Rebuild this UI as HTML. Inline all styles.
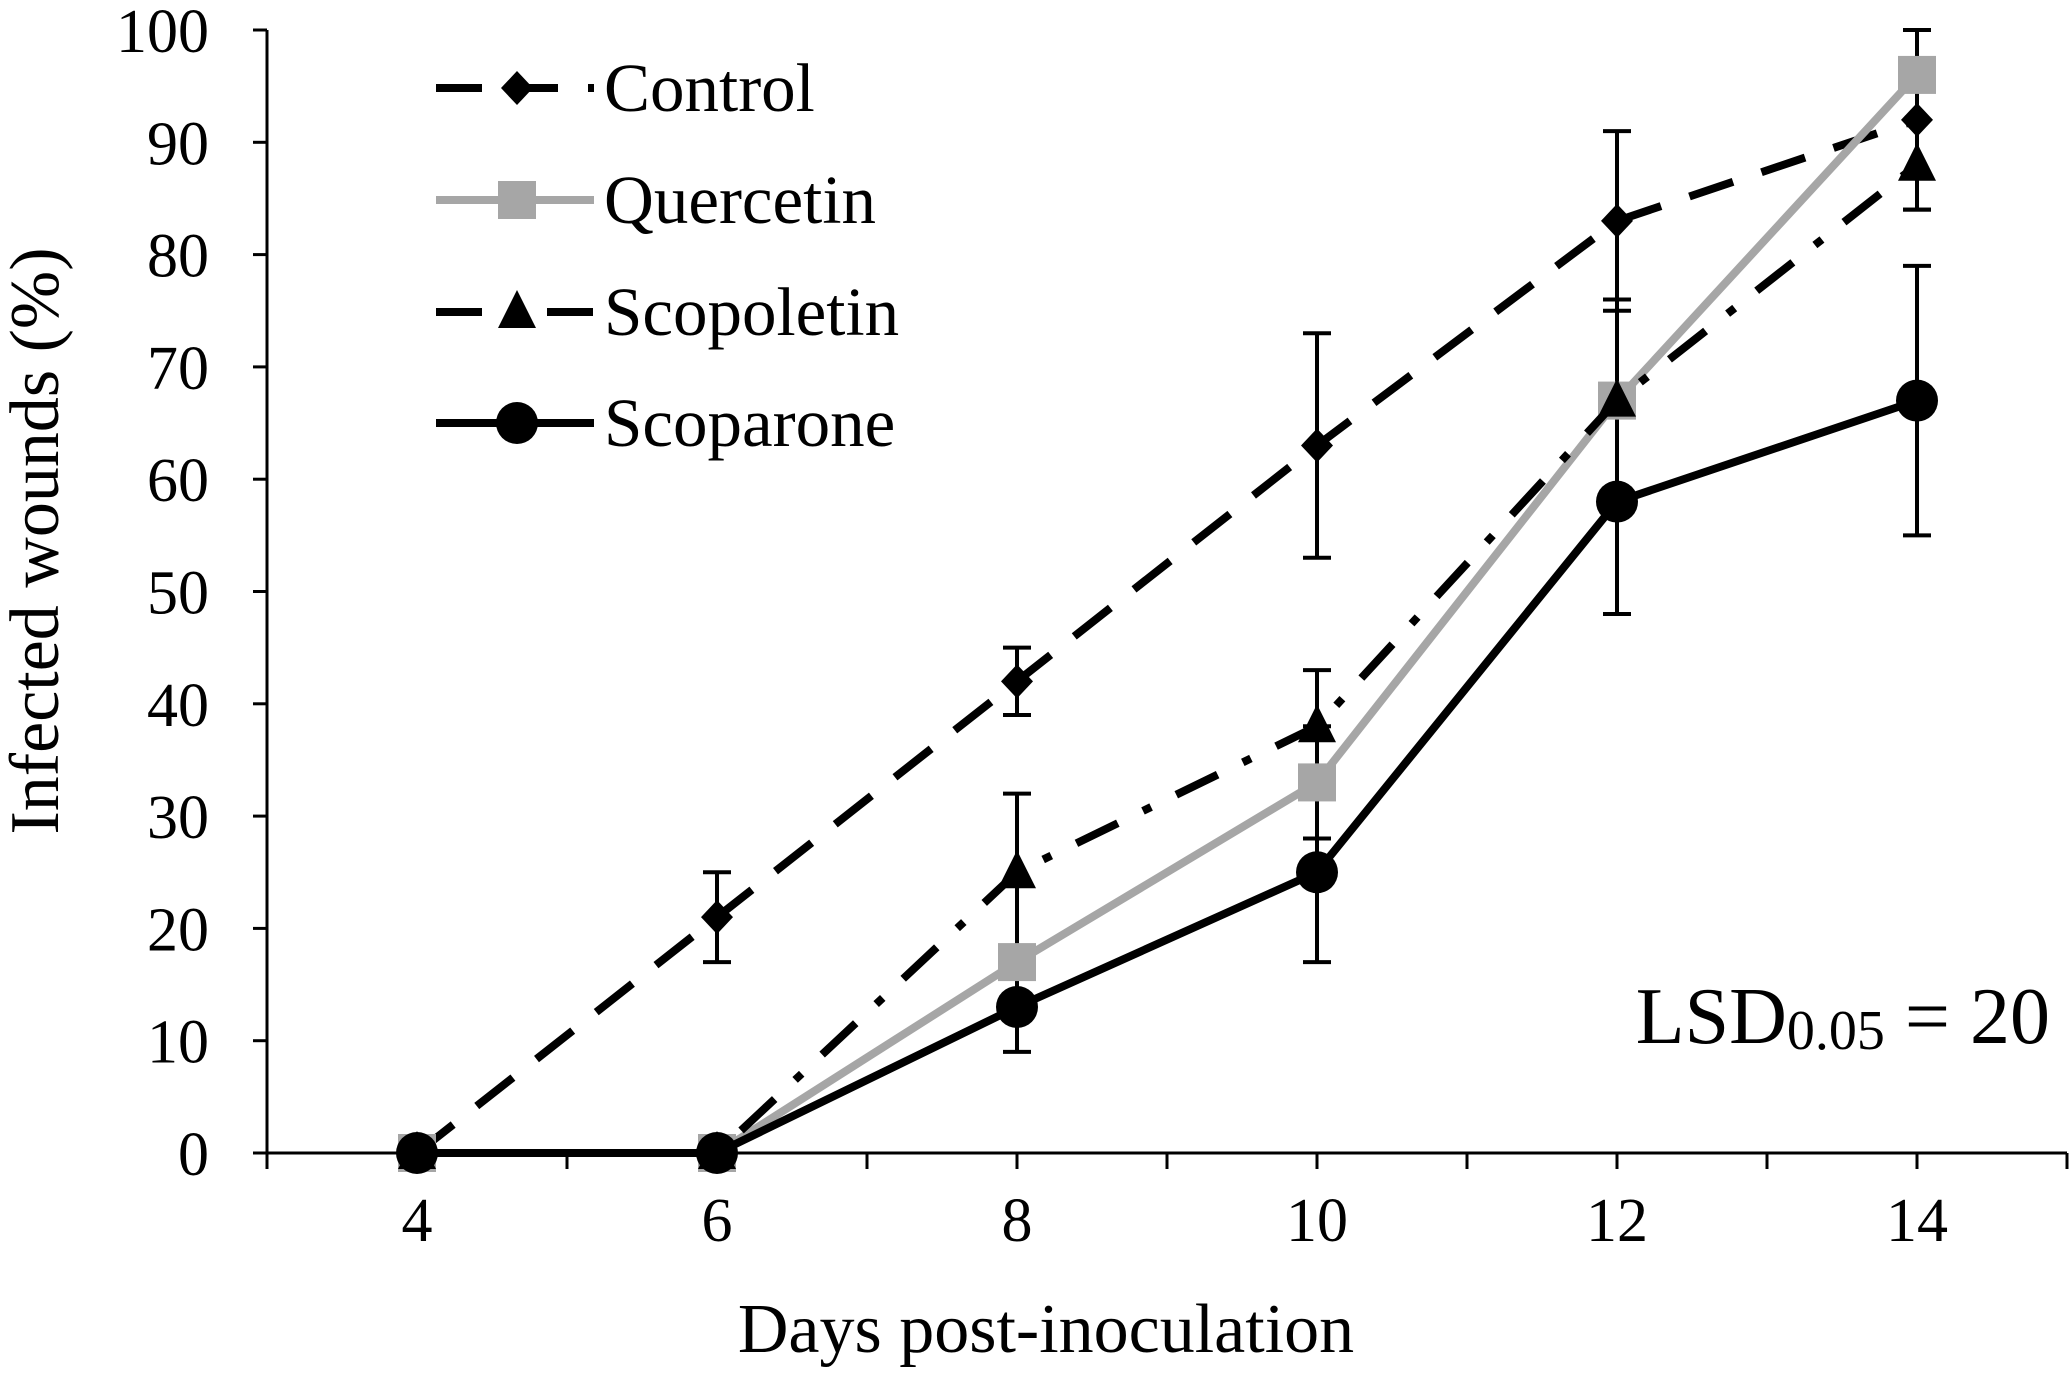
<!DOCTYPE html>
<html><head><meta charset="utf-8"><style>
html,body{margin:0;padding:0;background:#fff;}
svg{display:block;font-family:"Liberation Serif",serif;}
</style></head><body>
<svg id="chart" width="2071" height="1380" viewBox="0 0 2071 1380" xmlns="http://www.w3.org/2000/svg">
<g id="axes"></g>
<g id="series"></g>
<g id="legend"></g>
<text x="1046" y="1352" font-size="70" text-anchor="middle">Days post-inoculation</text>
<text transform="translate(58,541) rotate(-90)" font-size="70" text-anchor="middle">Infected wounds (%)</text>
<text x="2050" y="1043" font-size="80" text-anchor="end">LSD<tspan font-size="56" dy="6">0.05</tspan><tspan dy="-6"> = 20</tspan></text>
</svg>
<script>
const days = [4, 6, 8, 10, 12, 14];
const yTicks = [0, 10, 20, 30, 40, 50, 60, 70, 80, 90, 100];
const xTickLabels = [4, 6, 8, 10, 12, 14];
const seriesNames = ["Control", "Quercetin", "Scopoletin", "Scoparone"];
const control = [0, 21, 42, 63, 83, 92];
const controlErr = [0, 4, 3, 10, 8, 8];
const quercetin = [0, 0, 17, 33, 67, 96];
const quercetinErr = [0, 0, 0, 5, 0, 0];
const scopoletin = [0, 0, 25, 38, 67, 88];
const scopoletinErr = [0, 0, 7, 5, 9, 4];
const scoparone = [0, 0, 13, 25, 58, 67];
const scoparoneErr = [0, 0, 4, 8, 10, 12];

const NS = "http://www.w3.org/2000/svg";
const X0 = 267, X1 = 2067, Y0 = 1153, Y100 = 30;
const xs = d => X0 + (d - 3) / 12 * (X1 - X0);
const ys = v => Y0 - v / 100 * (Y0 - Y100);
function mk(tag, attrs, parent) {
  const e = document.createElementNS(NS, tag);
  for (const k in attrs) e.setAttribute(k, attrs[k]);
  parent.appendChild(e);
  return e;
}
const axes = document.getElementById('axes');
const ser = document.getElementById('series');
const leg = document.getElementById('legend');

let el = mk('line', {x1: X0, y1: Y100, x2: X0, y2: Y0, stroke: '#000', 'stroke-width': 3}, axes);


el = mk('line', {x1: X0, y1: Y0, x2: X1, y2: Y0, stroke: '#000', 'stroke-width': 3}, axes);


yTicks.forEach(v => {
  const t = mk('line', {x1: X0 - 14, y1: ys(v), x2: X0, y2: ys(v), stroke: '#000', 'stroke-width': 3}, axes);
  
  
  const l = mk('text', {x: X0 - 58, y: ys(v) + 22, 'font-size': 62, 'text-anchor': 'end'}, axes);
  l.textContent = v;
  
  
});
for (let d = 3; d <= 15; d++) {
  const t = mk('line', {x1: xs(d), y1: Y0, x2: xs(d), y2: Y0 + 16, stroke: '#000', 'stroke-width': 3}, axes);
  
  
}
xTickLabels.forEach(d => {
  const l = mk('text', {x: xs(d), y: Y0 + 88, 'font-size': 62, 'text-anchor': 'middle'}, axes);
  l.textContent = d;
  
  
});

const styles = [
  {vals: control, err: controlErr, color: '#000', dash: '46 30', marker: 'diamond'},
  {vals: quercetin, err: quercetinErr, color: '#a6a6a6', dash: '', marker: 'square'},
  {vals: scopoletin, err: scopoletinErr, color: '#000', dash: '46 28 9 28', marker: 'triangle'},
  {vals: scoparone, err: scoparoneErr, color: '#000', dash: '', marker: 'circle'}
];
function marker(type, x, y, color, parent) {
  let m;
  if (type === 'diamond') m = mk('polygon', {points: `${x},${y-17} ${x+16},${y} ${x},${y+17} ${x-16},${y}`, fill: color}, parent);
  else if (type === 'square') m = mk('rect', {x: x-19, y: y-19, width: 38, height: 38, fill: color}, parent);
  else if (type === 'triangle') m = mk('polygon', {points: `${x},${y-22} ${x+19},${y+16} ${x-19},${y+16}`, fill: color}, parent);
  else m = mk('circle', {cx: x, cy: y, r: 21, fill: color}, parent);
  return m;
}
styles.forEach((s, si) => {
  s.vals.forEach((v, i) => {
    const e = s.err[i];
    if (!e) return;
    const g = mk('g', {stroke: '#000', 'stroke-width': 4}, ser);
    
    
    const x = xs(days[i]);
    mk('line', {x1: x, y1: ys(v - e), x2: x, y2: ys(v + e)}, g);
    mk('line', {x1: x - 14, y1: ys(v - e), x2: x + 14, y2: ys(v - e)}, g);
    mk('line', {x1: x - 14, y1: ys(v + e), x2: x + 14, y2: ys(v + e)}, g);
  });
});
styles.forEach((s, si) => {
  const pts = s.vals.map((v, i) => xs(days[i]) + ',' + ys(v)).join(' ');
  const attrs = {points: pts, fill: 'none', stroke: s.color, 'stroke-width': 8};
  if (s.dash) attrs['stroke-dasharray'] = s.dash;
  const pl = mk('polyline', attrs, ser);
  
  
  s.vals.forEach((v, i) => {
    const m = marker(s.marker, xs(days[i]), ys(v), s.color, ser);
    
    
  });
});
const legY = [88, 200, 312, 423];
styles.forEach((s, si) => {
  const g = mk('g', {}, leg);
  
  
  const y = legY[si];
  const attrs = {x1: 436, y1: y, x2: 594, y2: y, stroke: s.color, 'stroke-width': 8};
  if (s.dash) attrs['stroke-dasharray'] = s.dash;
  mk('line', attrs, g);
  marker(s.marker, 517, y, s.color, g);
  const t = mk('text', {x: 604, y: y + 23, 'font-size': 69}, g);
  t.textContent = seriesNames[si];
});
</script>
</body></html>
